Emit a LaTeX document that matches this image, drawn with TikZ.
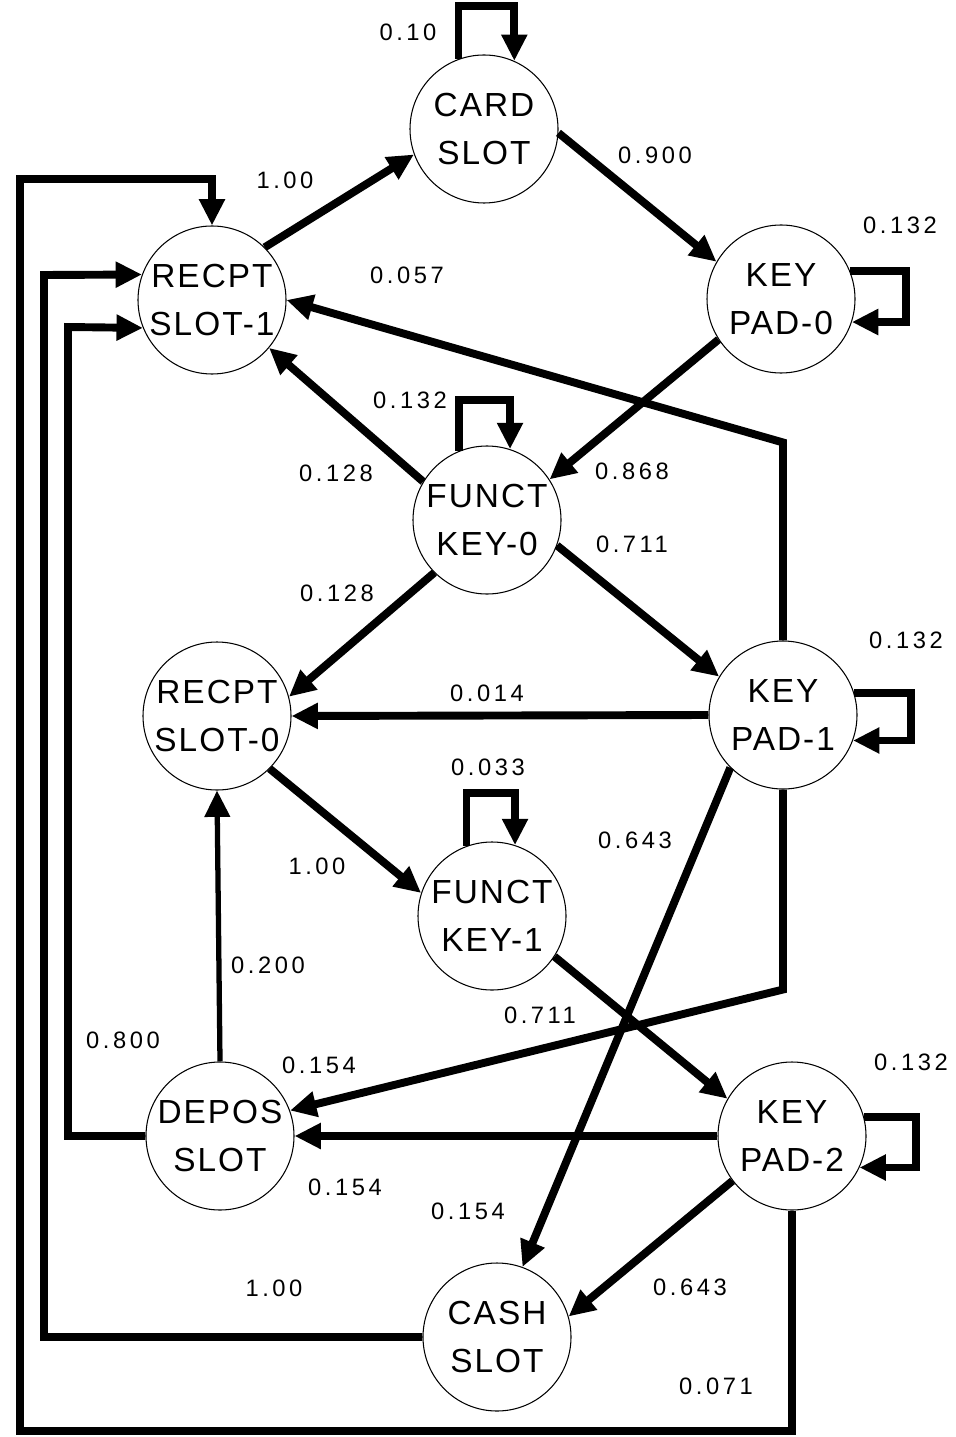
\documentclass[tikz,border=0pt]{standalone}
\usepackage{fontspec}
\setmainfont{Liberation Sans}
\newfontfamily\statefont[LetterSpace=6]{Liberation Sans}
\newfontfamily\probfont[LetterSpace=15]{Liberation Sans}
\usetikzlibrary{arrows.meta}

\begin{document}
\begin{tikzpicture}[
    x=0.2mm,y=-0.2mm,
    >={Triangle[length=15pt,width=14pt]},
    state/.style={
      circle,draw,line width=0.6pt,minimum size=29.6mm,inner sep=0pt,
      align=center,font=\statefont\fontsize{19}{27}\selectfont
    },
    flow/.style={->,line width=4.5pt},
    thinflow/.style={flow,line width=3pt},
    prob/.style={inner sep=0pt,font=\probfont\fontsize{13.5}{15}\selectfont}
  ]
    \useasboundingbox (0,0) rectangle (955,1437);

    % states
    \node[state] (card) at (484,129) {CARD\\SLOT};
    \node[state] (rslot1) at (212,300) {RECPT\\SLOT-1};
    \node[state] (kpad0) at (781,299) {KEY\\PAD-0};
    \node[state] (fkey0) at (487,520) {FUNCT\\KEY-0};
    \node[state] (rslot0) at (217,716) {RECPT\\SLOT-0};
    \node[state] (kpad1) at (783,715) {KEY\\PAD-1};
    \node[state] (fkey1) at (492,916) {FUNCT\\KEY-1};
    \node[state] (depos) at (220,1136) {DEPOS\\SLOT};
    \node[state] (kpad2) at (792,1136) {KEY\\PAD-2};
    \node[state] (cash) at (497,1337) {CASH\\SLOT};

    % self loops
    \draw[flow] (card.110) -- ++(0,-53) -| (card.66);
    \draw[flow] (kpad0.22) -- ++(56,0) |- (kpad0.-18);
    \draw[flow] (fkey0.112) -- ++(0,-51) -| (fkey0.72);
    \draw[flow] (kpad1.17) -- ++(57,0) |- (kpad1.-20);
    \draw[flow] (fkey1.110) -- ++(0,-53) -| (fkey1.72);
    \draw[flow] (kpad2.15) -- ++(52,0) |- (kpad2.-25);

    % transitions
    \draw[flow] (rslot1.45) -- (card.200);
    \draw[flow] (card.-3) -- (kpad0.150);
    \draw[flow] (kpad0.213) -- (fkey0.33);
    \draw[flow] (fkey0.149) -- (rslot1.-40);
    \draw[flow] (kpad1.north) -- ++(0,-198) -- (rslot1.east);
    \draw[flow] (fkey0.-20) -- (kpad1.149);
    \draw[flow] (fkey0.225) -- (rslot0.15);
    \draw[flow] (kpad1.west) -- (rslot0.east);
    \draw[flow] (rslot0.-45) -- (fkey1.162);
    \draw[flow] (kpad1.225) -- (cash.70);
    \draw[flow] (kpad1.south) -- ++(0,200) -- (depos.20);
    \draw[thinflow] (depos.north) -- (rslot0.south);
    \draw[flow] (fkey1.-33) -- (kpad2.150);
    \draw[flow] (kpad2.west) -- (depos.east);
    \draw[flow] (kpad2.217) -- (cash.16);

    % returns to RECPT SLOT-1
    \draw[flow] (kpad2.south) |- (20,1431) -- (20,179) -| (rslot1.north);
    \draw[flow] (cash.west) -| (44,275) -- (rslot1.160);
    \draw[flow] (depos.west) -| (68,327) -- (rslot1.202);

    % probabilities
    \node[prob] (p-card) at (408,32) {0.10};
    \node[prob] (p-rc) at (285,180) {1.00};
    \node[prob] (p-ck) at (655,155) {0.900};
    \node[prob] (p-kpad0) at (900,225) {0.132};
    \node[prob] (p-kr1) at (407,275) {0.057};
    \node[prob] (p-fkey0) at (410,400) {0.132};
    \node[prob] (p-fr1) at (336,473) {0.128};
    \node[prob] (p-kf) at (632,471) {0.868};
    \node[prob] (p-fk1) at (632,544) {0.711};
    \node[prob] (p-fr0) at (337,593) {0.128};
    \node[prob] (p-kpad1) at (906,640) {0.132};
    \node[prob] (p-kr0) at (487,693) {0.014};
    \node[prob] (p-fkey1) at (488,767) {0.033};
    \node[prob] (p-kc1) at (635,840) {0.643};
    \node[prob] (p-rf) at (317,866) {1.00};
    \node[prob] (p-dr0) at (268,965) {0.200};
    \node[prob] (p-fk2) at (540,1015) {0.711};
    \node[prob] (p-dr1) at (123,1040) {0.800};
    \node[prob] (p-kd1) at (319,1065) {0.154};
    \node[prob] (p-kpad2) at (911,1062) {0.132};
    \node[prob] (p-kd2) at (345,1187) {0.154};
    \node[prob] (p-kc2) at (468,1211) {0.154};
    \node[prob] (p-cr) at (274,1288) {1.00};
    \node[prob] (p-kc3) at (690,1287) {0.643};
    \node[prob] (p-kr2) at (716,1386) {0.071};
  \end{tikzpicture}
\end{document}
